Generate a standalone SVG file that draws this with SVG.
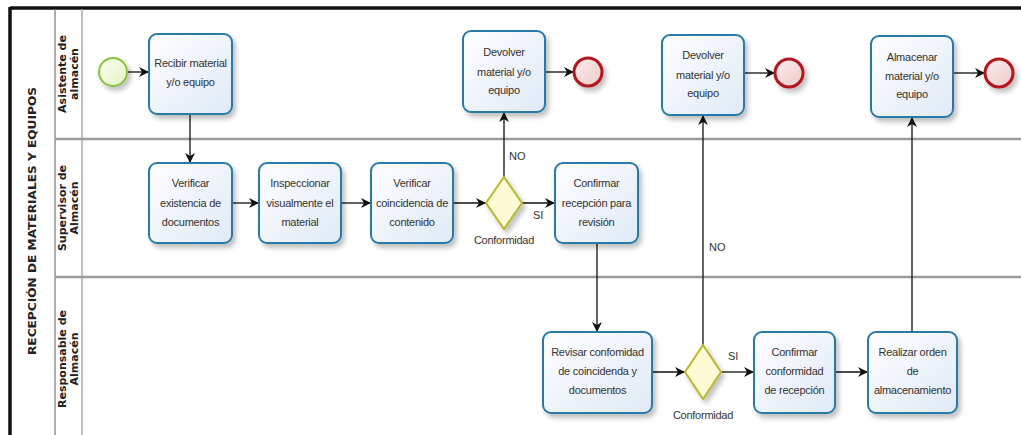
<svg xmlns="http://www.w3.org/2000/svg" width="1021" height="435" viewBox="0 0 1021 435">
<defs>
<linearGradient id="gTask" x1="0" y1="0" x2="1" y2="1">
<stop offset="0" stop-color="#ffffff"/><stop offset="1" stop-color="#dfe9f6"/>
</linearGradient>
<linearGradient id="gEnd" x1="0" y1="0" x2="1" y2="1">
<stop offset="0" stop-color="#fbeeee"/><stop offset="1" stop-color="#f0c8c8"/>
</linearGradient>
<linearGradient id="gStart" x1="0" y1="0" x2="1" y2="1">
<stop offset="0" stop-color="#fbfff0"/><stop offset="1" stop-color="#e4f3c4"/>
</linearGradient>
<filter id="sh" x="-20%" y="-20%" width="150%" height="150%">
<feGaussianBlur in="SourceAlpha" stdDeviation="2.5"/>
<feOffset dx="3" dy="4" result="b"/>
<feComponentTransfer><feFuncA type="linear" slope="0.25"/></feComponentTransfer>
<feMerge><feMergeNode/><feMergeNode in="SourceGraphic"/></feMerge>
</filter>
<marker id="ah" markerUnits="userSpaceOnUse" markerWidth="11" markerHeight="11" refX="10" refY="5.5" orient="auto" viewBox="0 0 11 11">
<path d="M0,0.5 L10,5.5 L0,10.5 L3,5.5 z" fill="#111"/>
</marker>
</defs>
<style>
.task{fill:url(#gTask);stroke:#2b7aa6;stroke-width:2;filter:url(#sh)}
.tt{font-family:"Liberation Sans",Arial,sans-serif;font-size:11px;letter-spacing:-0.25px;fill:#333;text-anchor:middle}
.lbl{font-family:"Liberation Sans",Arial,sans-serif;font-size:11px;fill:#333}
.lane{font-family:"DejaVu Sans",Verdana,sans-serif;font-size:11px;font-weight:bold;fill:#222;text-anchor:middle}
.gw{fill:#fbfbd6;stroke:#b8b82a;stroke-width:2;filter:url(#sh)}
.endev{fill:url(#gEnd);stroke:#b3141d;stroke-width:3;filter:url(#sh)}
.stev{fill:url(#gStart);stroke:#86c23a;stroke-width:2;filter:url(#sh)}
.cn{fill:none;stroke:#111;stroke-width:1.3;marker-end:url(#ah)}
.sep{stroke:#9a9a9a;stroke-width:2.5;fill:none}
</style>
<rect x="0" y="0" width="1021" height="435" fill="#ffffff"/>
<g id="pool">
<line x1="10" y1="8" x2="1021" y2="8" stroke="#111" stroke-width="3.5"/>
<line x1="10" y1="7" x2="10" y2="435" stroke="#111" stroke-width="3.5"/>
<line x1="55" y1="9" x2="55" y2="435" stroke="#777" stroke-width="1.2"/>
<line x1="82" y1="9" x2="82" y2="435" stroke="#aaa" stroke-width="1.5"/>
<line class="sep" x1="55" y1="139" x2="1021" y2="139"/>
<line class="sep" x1="55" y1="277" x2="1021" y2="277"/>
<text class="lane" style="font-size:10.5px" transform="translate(36,221) rotate(-90)" textLength="268" lengthAdjust="spacingAndGlyphs">RECEPCIÓN DE MATERIALES Y EQUIPOS</text>
<text class="lane" transform="translate(66,74) rotate(-90)">Asistente de</text>
<text class="lane" transform="translate(78,74) rotate(-90)">almacén</text>
<text class="lane" transform="translate(66,208) rotate(-90)">Supervisor de</text>
<text class="lane" transform="translate(78,208) rotate(-90)">Almacén</text>
<text class="lane" transform="translate(66,359) rotate(-90)">Responsable de</text>
<text class="lane" transform="translate(78,359) rotate(-90)">Almacén</text>
</g>
<g id="connectors">
<line class="cn" x1="128" y1="72" x2="149" y2="72"/>
<line class="cn" x1="190" y1="114" x2="190" y2="163"/>
<line class="cn" x1="232" y1="203" x2="259" y2="203"/>
<line class="cn" x1="341" y1="203" x2="371" y2="203"/>
<line class="cn" x1="453" y1="203" x2="486" y2="203"/>
<line class="cn" x1="522" y1="203" x2="555" y2="203"/>
<line class="cn" x1="504" y1="177" x2="504" y2="112"/>
<line class="cn" x1="545" y1="72" x2="574" y2="72"/>
<line class="cn" x1="597" y1="243" x2="597" y2="332"/>
<line class="cn" x1="652" y1="372" x2="685" y2="372"/>
<line class="cn" x1="722" y1="372" x2="754" y2="372"/>
<line class="cn" x1="703" y1="345" x2="703" y2="115"/>
<line class="cn" x1="744" y1="73" x2="775" y2="73"/>
<line class="cn" x1="835" y1="372" x2="868" y2="372"/>
<line class="cn" x1="912" y1="332" x2="912" y2="117"/>
<line class="cn" x1="953" y1="73" x2="985" y2="73"/>
<text class="lbl" x="509" y="160">NO</text>
<text class="lbl" x="533" y="219">SI</text>
<text class="lbl" x="709" y="251">NO</text>
<text class="lbl" x="728" y="360">SI</text>
</g>
<g id="start"><circle class="stev" cx="113" cy="72" r="14"/></g>
<g id="recibir"><rect class="task" x="149" y="34" width="83" height="80" rx="8"/>
<text class="tt" x="190.5" y="67">Recibir material</text><text class="tt" x="190.5" y="86">y/o equipo</text></g>
<g id="verificarExistencia"><rect class="task" x="149" y="163" width="83" height="80" rx="8"/>
<text class="tt" x="190.5" y="187">Verificar</text><text class="tt" x="190.5" y="207">existencia de</text><text class="tt" x="190.5" y="226">documentos</text></g>
<g id="inspeccionar"><rect class="task" x="259" y="163" width="82" height="80" rx="8"/>
<text class="tt" x="300" y="187">Inspeccionar</text><text class="tt" x="300" y="207">visualmente el</text><text class="tt" x="300" y="226">material</text></g>
<g id="verificarCoincidencia"><rect class="task" x="371" y="163" width="82" height="80" rx="8"/>
<text class="tt" x="412" y="187">Verificar</text><text class="tt" x="412" y="207">coincidencia de</text><text class="tt" x="412" y="226">contenido</text></g>
<g id="gateway1"><path class="gw" d="M504,177 L522,203 L504,229 L486,203 z"/>
<text class="tt" x="504" y="244">Conformidad</text></g>
<g id="devolver1"><rect class="task" x="463" y="31" width="82" height="81" rx="8"/>
<text class="tt" x="504" y="56">Devolver</text><text class="tt" x="504" y="76">material y/o</text><text class="tt" x="504" y="94">equipo</text></g>
<g id="end1"><circle class="endev" cx="588" cy="72" r="14"/></g>
<g id="confirmarRecepcion"><rect class="task" x="555" y="163" width="83" height="80" rx="8"/>
<text class="tt" x="596.5" y="187">Confirmar</text><text class="tt" x="596.5" y="207">recepción para</text><text class="tt" x="596.5" y="226">revisión</text></g>
<g id="revisar"><rect class="task" x="543" y="332" width="109" height="81" rx="8"/>
<text class="tt" x="597.5" y="356">Revisar confomidad</text><text class="tt" x="597.5" y="375">de coincidenda y</text><text class="tt" x="597.5" y="394">documentos</text></g>
<g id="gateway2"><path class="gw" d="M703,345 L721,372 L703,399 L685,372 z"/>
<text class="tt" x="703" y="419">Conformidad</text></g>
<g id="devolver2"><rect class="task" x="662" y="35" width="82" height="80" rx="8"/>
<text class="tt" x="703" y="59">Devolver</text><text class="tt" x="703" y="79">material y/o</text><text class="tt" x="703" y="97">equipo</text></g>
<g id="end2"><circle class="endev" cx="789" cy="73" r="14"/></g>
<g id="confirmarConformidad"><rect class="task" x="754" y="332" width="81" height="81" rx="8"/>
<text class="tt" x="794.5" y="356">Confirmar</text><text class="tt" x="794.5" y="375">conformidad</text><text class="tt" x="794.5" y="394">de recepción</text></g>
<g id="realizar"><rect class="task" x="868" y="332" width="89" height="81" rx="8"/>
<text class="tt" x="912.5" y="356">Realizar orden</text><text class="tt" x="912.5" y="375">de</text><text class="tt" x="912.5" y="394">almacenamiento</text></g>
<g id="almacenar"><rect class="task" x="871" y="36" width="82" height="81" rx="8"/>
<text class="tt" x="912" y="61">Almacenar</text><text class="tt" x="912" y="80">material y/o</text><text class="tt" x="912" y="98">equipo</text></g>
<g id="end3"><circle class="endev" cx="999" cy="73" r="14"/></g>
</svg>
